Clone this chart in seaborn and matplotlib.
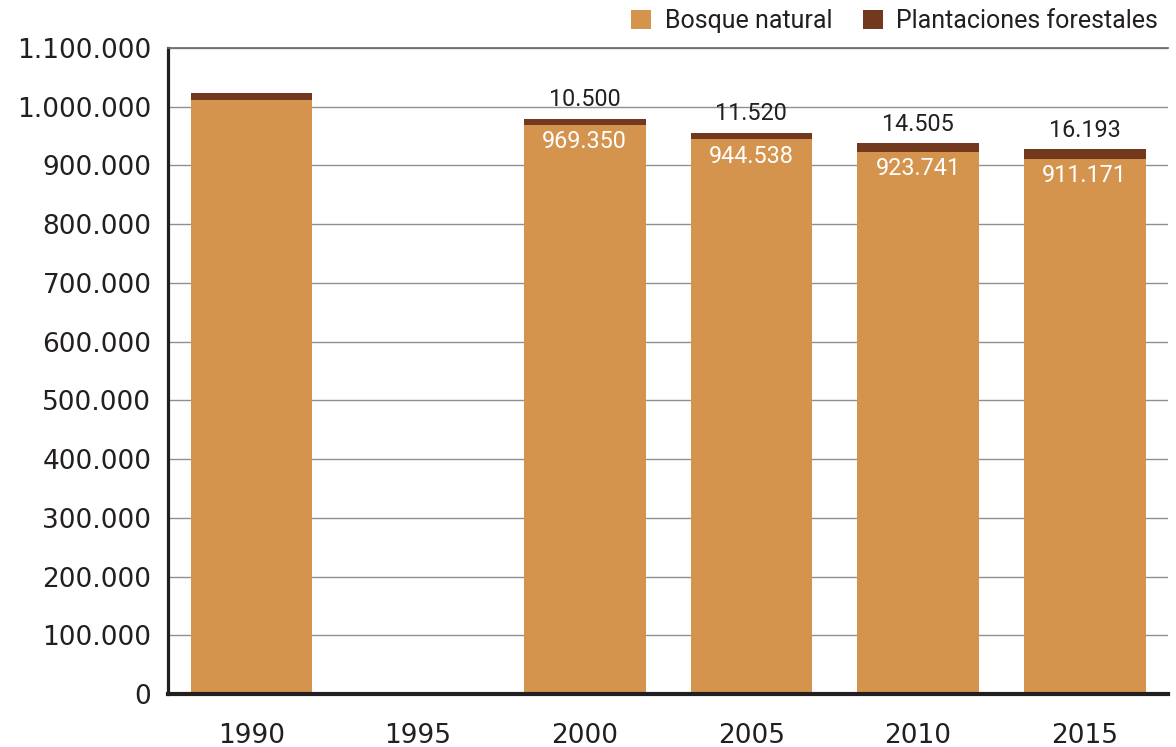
"""
Superficie de bosque natural y plantaciones forestales (ha), 1990-2015
"""
import numpy as np
import pandas as pd
import matplotlib
matplotlib.use('Agg')
import matplotlib.pyplot as plt
import seaborn as sns
from matplotlib.patches import Patch
from matplotlib.ticker import FixedLocator, FuncFormatter

# datos
years = ['1990', '1995', '2000', '2005', '2010', '2015']
bosque_natural = [1012000, np.nan, 969350, 944538, 923741, 911171]
plantaciones = [12000, np.nan, 10500, 11520, 14505, 16193]
# etiquetas sólo donde el original las muestra
show_labels = [False, False, True, True, True, True]

COLOR_NATURAL = '#D5944E'
COLOR_PLANT = '#73391E'
TEXT = '#231F20'

sns.set_style('white')
plt.rcParams['font.family'] = ['DejaVu Sans']

df = pd.DataFrame({'year': years, 'natural': bosque_natural, 'plant': plantaciones})
df['total'] = df['natural'] + df['plant']

fig = plt.figure(figsize=(11.76, 7.47), dpi=100)
ax = fig.add_axes([0.1429, 0.0710, 0.8503, 0.8647])

# total primero (marrón), luego bosque natural encima
sns.barplot(data=df, x='year', y='total', order=years, color=COLOR_PLANT,
            saturation=1, width=0.73, errorbar=None, linewidth=0, ax=ax, zorder=3)
sns.barplot(data=df, x='year', y='natural', order=years, color=COLOR_NATURAL,
            saturation=1, width=0.73, errorbar=None, linewidth=0, ax=ax, zorder=3)

ax.set_xlim(-0.5, len(years) - 0.5)
ax.set_ylim(0, 1100000)
ax.set_yticks(np.arange(0, 1100001, 100000))
ax.yaxis.set_major_formatter(FuncFormatter(lambda v, p: f'{int(v):,}'.replace(',', '.')))
ax.set_xlabel('')
ax.set_ylabel('')

# grilla
ax.yaxis.grid(True, color='#8f8f8f', linewidth=1.0, zorder=0)
ax.set_axisbelow(True)

# ejes
ax.spines['right'].set_visible(False)
ax.spines['top'].set_color('#6f6f6f')
ax.spines['top'].set_linewidth(1.3)
ax.spines['left'].set_color(TEXT)
ax.spines['left'].set_linewidth(2.3)
ax.spines['bottom'].set_color(TEXT)
ax.spines['bottom'].set_linewidth(3.0)
ax.spines['bottom'].set_zorder(5)

ax.tick_params(axis='y', length=0, pad=12, labelsize=19, labelcolor=TEXT)
ax.tick_params(axis='x', which='major', length=0, pad=21, labelsize=19, labelcolor=TEXT)
ax.xaxis.set_minor_locator(FixedLocator(np.arange(-0.5, len(years), 1.0)))
ax.tick_params(axis='x', which='minor', length=11, width=2, color=TEXT, direction='out')

# etiquetas de valores
fmt = lambda v: f'{int(round(v)):,}'.replace(',', '.')
for i, row in df.iterrows():
    if not show_labels[i]:
        continue
    ax.annotate(fmt(row['plant']), (i, row['total']), xytext=(0, 9),
                textcoords='offset points', ha='center', va='baseline',
                fontsize=16.8, color=TEXT, family=['Roboto', 'DejaVu Sans'], zorder=6)
    ax.annotate(fmt(row['natural']), (i, row['natural']), xytext=(0, -4),
                textcoords='offset points', ha='center', va='top',
                fontsize=16.8, color='white', family=['Roboto', 'DejaVu Sans'], zorder=6)

# leyenda
handles = [Patch(facecolor=COLOR_NATURAL, edgecolor='none', label='Bosque natural'),
           Patch(facecolor=COLOR_PLANT, edgecolor='none', label='Plantaciones forestales')]
fig.legend(handles=handles, loc='upper right', bbox_to_anchor=(1.004, 1.018), ncol=2,
           frameon=False, handlelength=0.8, handleheight=0.8, handletextpad=0.55,
           columnspacing=1.2, prop={'family': ['Roboto', 'DejaVu Sans'], 'size': 18},
           labelcolor=TEXT)

fig.savefig('out.png', dpi=100)
